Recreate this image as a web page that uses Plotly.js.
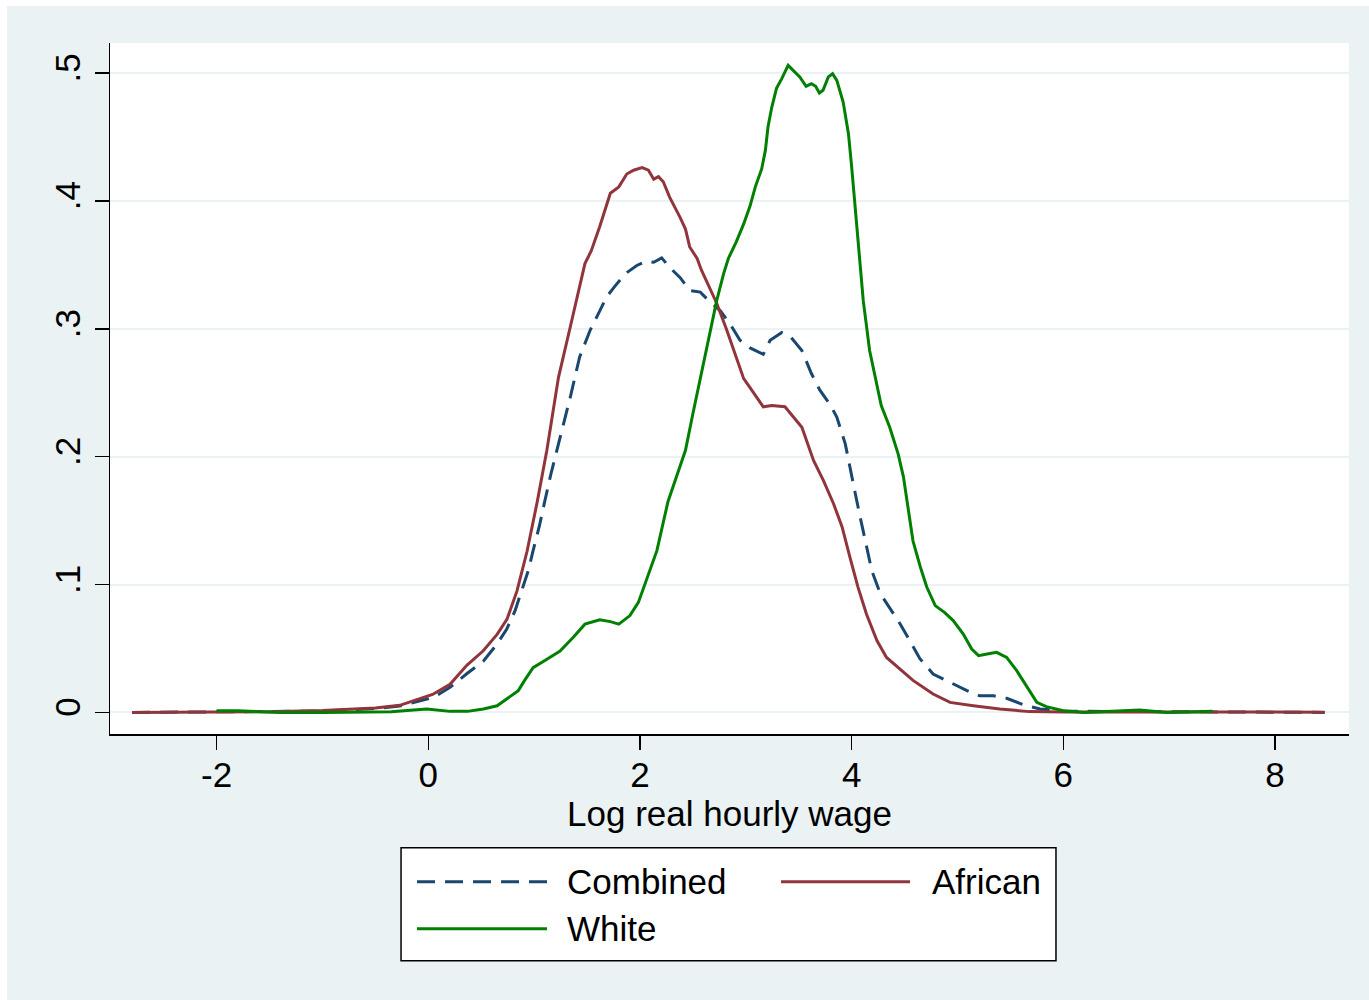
<!DOCTYPE html>
<html>
<head>
<meta charset="utf-8">
<script src="https://cdn.plot.ly/plotly-3.0.1.min.js"></script>
<style>
  html, body { margin: 0; padding: 0; background: #ffffff; }
  #chart { position: absolute; left: 7px; top: 6px; width: 1362px; height: 994px; }
</style>
</head>
<body>
<div id="chart"></div>
<script>
// ---- Data ----
const combinedX = [-2.8, -2.0, -1.5, -1.0, -0.5, -0.27, 0.05, 0.205, 0.36, 0.52, 0.65, 0.74, 0.82, 0.88, 0.945, 0.99, 1.05, 1.1, 1.16, 1.23, 1.34, 1.43, 1.53, 1.62, 1.685, 1.76, 1.86, 1.97, 2.06, 2.13, 2.205, 2.28, 2.38, 2.47, 2.57, 2.65, 2.76, 2.85, 2.945, 3.04, 3.165, 3.23, 3.34, 3.43, 3.53, 3.62, 3.70, 3.795, 3.86, 3.94, 3.97, 4.03, 4.08, 4.13, 4.19, 4.27, 4.36, 4.46, 4.55, 4.645, 4.77, 4.93, 5.09, 5.21, 5.34, 5.465, 5.65, 5.78, 6.0, 6.5, 7.0, 7.5, 8.47];
const combinedY = [0, 0.0003, 0.0005, 0.001, 0.003, 0.005, 0.0117, 0.0196, 0.030, 0.040, 0.0535, 0.065, 0.0796, 0.095, 0.111, 0.1265, 0.146, 0.165, 0.187, 0.210, 0.246, 0.278, 0.299, 0.314, 0.325, 0.333, 0.343, 0.3495, 0.353, 0.352, 0.3555, 0.348, 0.340, 0.330, 0.3287, 0.322, 0.314, 0.304, 0.291, 0.285, 0.280, 0.291, 0.297, 0.293, 0.283, 0.265, 0.252, 0.241, 0.231, 0.210, 0.197, 0.173, 0.153, 0.134, 0.111, 0.093, 0.082, 0.069, 0.056, 0.042, 0.030, 0.0235, 0.017, 0.013, 0.013, 0.011, 0.0052, 0.0027, 0.001, 0.0007, 0.0005, 0.0003, 0];

const africanX = [-2.8, -2.0, -1.5, -1.0, -0.7, -0.5, -0.27, 0.04, 0.205, 0.366, 0.517, 0.65, 0.744, 0.838, 0.933, 1.03, 1.12, 1.23, 1.34, 1.42, 1.48, 1.54, 1.62, 1.72, 1.80, 1.875, 1.94, 2.02, 2.08, 2.13, 2.175, 2.22, 2.28, 2.38, 2.43, 2.47, 2.54, 2.58, 2.65, 2.725, 2.82, 2.90, 2.98, 3.04, 3.165, 3.245, 3.37, 3.45, 3.53, 3.64, 3.735, 3.83, 3.91, 3.985, 4.06, 4.14, 4.24, 4.33, 4.46, 4.58, 4.77, 4.93, 5.15, 5.40, 5.68, 6.0, 7.0, 8.47];
const africanY = [0, 0, 0.0005, 0.0015, 0.0025, 0.0035, 0.0055, 0.014, 0.022, 0.037, 0.048, 0.061, 0.073, 0.095, 0.126, 0.165, 0.205, 0.262, 0.301, 0.330, 0.351, 0.361, 0.380, 0.406, 0.411, 0.421, 0.424, 0.426, 0.424, 0.417, 0.419, 0.415, 0.403, 0.387, 0.378, 0.364, 0.355, 0.346, 0.333, 0.320, 0.299, 0.280, 0.261, 0.254, 0.239, 0.240, 0.239, 0.231, 0.223, 0.197, 0.181, 0.163, 0.145, 0.121, 0.098, 0.077, 0.056, 0.043, 0.034, 0.025, 0.0144, 0.0078, 0.0052, 0.0027, 0.0006, 0.0003, 0.0003, 0.0002];

const whiteX = [-2.0, -1.8, -1.6, -1.4, -1.0, -0.6, -0.35, -0.2, -0.015, 0.205, 0.37, 0.52, 0.65, 0.74, 0.85, 0.91, 0.99, 1.09, 1.245, 1.37, 1.48, 1.62, 1.72, 1.80, 1.905, 1.985, 2.06, 2.16, 2.265, 2.43, 2.50, 2.60, 2.66, 2.725, 2.79, 2.835, 2.91, 2.98, 3.04, 3.09, 3.15, 3.185, 3.21, 3.245, 3.29, 3.34, 3.40, 3.465, 3.51, 3.57, 3.62, 3.66, 3.695, 3.73, 3.78, 3.82, 3.86, 3.92, 3.97, 4.00, 4.03, 4.065, 4.11, 4.17, 4.24, 4.28, 4.36, 4.44, 4.49, 4.535, 4.58, 4.65, 4.71, 4.79, 4.88, 4.96, 5.055, 5.135, 5.20, 5.28, 5.37, 5.465, 5.56, 5.65, 5.75, 5.84, 6.0, 6.2, 6.6, 6.72, 6.98, 7.41];
const whiteY = [0.0013, 0.0012, 0.0005, 0.0, 0.0, 0.0002, 0.0005, 0.0015, 0.0027, 0.0008, 0.0008, 0.0027, 0.0052, 0.0105, 0.017, 0.025, 0.035, 0.040, 0.048, 0.0587, 0.069, 0.0725, 0.071, 0.069, 0.0757, 0.086, 0.103, 0.1265, 0.165, 0.205, 0.2335, 0.2726, 0.2987, 0.322, 0.343, 0.355, 0.368, 0.382, 0.396, 0.411, 0.425, 0.4395, 0.458, 0.473, 0.488, 0.4956, 0.506, 0.5008, 0.497, 0.4896, 0.4917, 0.4896, 0.4844, 0.4865, 0.497, 0.4995, 0.4943, 0.4773, 0.4526, 0.427, 0.398, 0.365, 0.322, 0.283, 0.257, 0.240, 0.223, 0.202, 0.184, 0.160, 0.134, 0.1135, 0.098, 0.0835, 0.078, 0.0718, 0.0613, 0.0496, 0.0444, 0.0457, 0.047, 0.043, 0.0326, 0.0209, 0.0078, 0.0045, 0.0013, 0.0, 0.0019, 0.0019, 0.0, 0.0008];

const seriesNames = ["Combined", "African", "White"];
const seriesColors = ["#1A476F", "#90353B", "#008000"];
const xTickVals = [-2, 0, 2, 4, 6, 8];
const xTickText = ["-2", "0", "2", "4", "6", "8"];
const yTickVals = [0, 0.1, 0.2, 0.3, 0.4, 0.5];
const yTickText = ["0", ".1", ".2", ".3", ".4", ".5"];
const xTitle = "Log real hourly wage";

// ---- Chart ----
const FONT = "'Liberation Sans', Arial, Helvetica, sans-serif";
const BG = "#EAF2F3";

const traces = [
  { x: combinedX, y: combinedY, name: seriesNames[0], type: "scatter", mode: "lines",
    line: { color: seriesColors[0], width: 3, dash: "18px,10px" }, showlegend: false, hoverinfo: "x+y+name" },
  { x: africanX, y: africanY, name: seriesNames[1], type: "scatter", mode: "lines",
    line: { color: seriesColors[1], width: 3 }, showlegend: false, hoverinfo: "x+y+name" },
  { x: whiteX, y: whiteY, name: seriesNames[2], type: "scatter", mode: "lines",
    line: { color: seriesColors[2], width: 3 }, showlegend: false, hoverinfo: "x+y+name" }
];

// Legend built in paper coordinates (plot area: x 110..1349 px, y 42.7..733.3 px)
const legRows = [-0.2139, -0.2819];
const legendShapes = [
  { type: "rect", xref: "paper", yref: "paper", x0: 0.2349, x1: 0.7635, y0: -0.3283, y1: -0.1646,
    line: { color: "#000000", width: 1.5 }, fillcolor: "#ffffff", layer: "above" },
  { type: "line", xref: "paper", yref: "paper", x0: 0.2478, x1: 0.3527, y0: legRows[0], y1: legRows[0],
    line: { color: seriesColors[0], width: 3, dash: "18px,10px" } },
  { type: "line", xref: "paper", yref: "paper", x0: 0.5416, x1: 0.6457, y0: legRows[0], y1: legRows[0],
    line: { color: seriesColors[1], width: 3 } },
  { type: "line", xref: "paper", yref: "paper", x0: 0.2478, x1: 0.3527, y0: legRows[1], y1: legRows[1],
    line: { color: seriesColors[2], width: 3 } }
];
const legendTexts = [
  { text: seriesNames[0], x: 0.3675, y: legRows[0] },
  { text: seriesNames[1], x: 0.6615, y: legRows[0] },
  { text: seriesNames[2], x: 0.3675, y: legRows[1] }
].map(a => ({
  text: a.text, x: a.x, y: a.y, xref: "paper", yref: "paper", xanchor: "left", yanchor: "middle",
  showarrow: false, font: { family: FONT, size: 35, color: "#000000" }
}));

const layout = {
  width: 1362, height: 994,
  paper_bgcolor: BG, plot_bgcolor: "#ffffff",
  margin: { l: 103, r: 20, t: 37, b: 266, pad: 0 },
  font: { family: FONT, size: 35, color: "#000000" },
  showlegend: false,
  xaxis: {
    range: [-3.008, 8.70], tickmode: "array", tickvals: xTickVals, ticktext: xTickText,
    showgrid: false, zeroline: false, showline: true, linecolor: "#000000", linewidth: 1.5,
    ticks: "outside", ticklen: 14, tickwidth: 1.5, tickcolor: "#000000",
    ticklabelstandoff: -5,
    tickfont: { family: FONT, size: 35, color: "#000000" },
    title: { text: xTitle, font: { family: FONT, size: 35, color: "#000000" }, standoff: 0 },
    automargin: false, fixedrange: true
  },
  yaxis: {
    range: [-0.0169, 0.5235], tickmode: "array", tickvals: yTickVals, ticktext: yTickText,
    showgrid: true, gridcolor: BG, gridwidth: 2, zeroline: false,
    showline: true, linecolor: "#000000", linewidth: 1.5,
    ticks: "outside", ticklen: 14, tickwidth: 1.5, tickcolor: "#000000",
    ticklabelstandoff: 1,
    tickangle: -90, tickfont: { family: FONT, size: 35, color: "#000000" },
    automargin: false, fixedrange: true
  },
  shapes: legendShapes,
  annotations: legendTexts
};

Plotly.newPlot("chart", traces, layout, { displayModeBar: false, staticPlot: true });
</script>
</body>
</html>
